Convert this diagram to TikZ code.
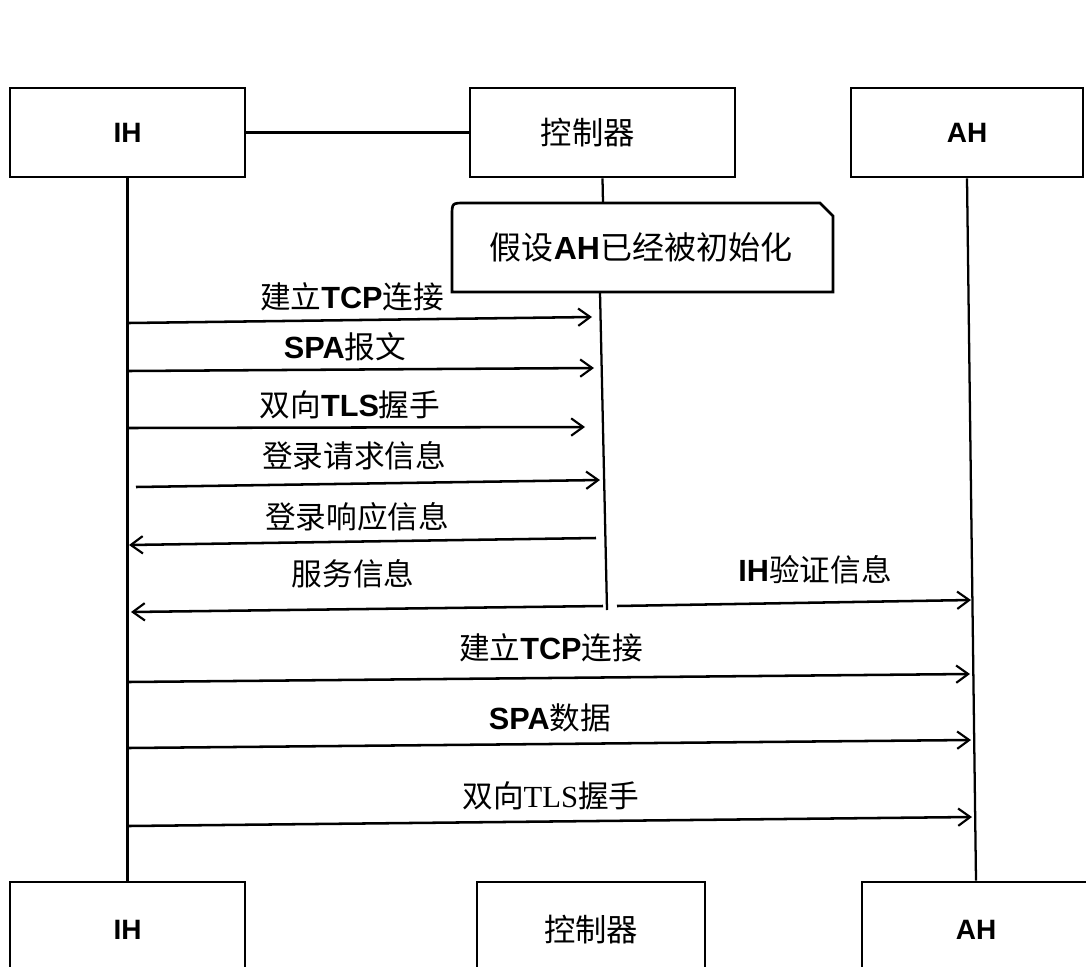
\documentclass[tikz,border=0pt]{standalone}
\usepackage{fontspec}
\setmainfont{Liberation Sans}
\newfontfamily\cjk{Noto Sans CJK SC}
\newfontfamily\serifl{Liberation Serif}
\usetikzlibrary{arrows.meta}
\newcommand\zh[1]{{\cjk #1}}
\newcommand\lat[1]{{\bfseries #1}}
\tikzset{
  actor/.style={draw, line width=2pt, fill=white, inner sep=0pt, font=\fontsize{21}{24}\selectfont},
  life/.style={line width=1.7pt},
  msg/.style={line width=1.9pt, -{Straight Barb[length=9pt,width=13pt,line width=1.6pt]}},
  lbl/.style={font=\fontsize{23}{26}\selectfont, inner sep=0pt},
}
\begin{document}
\begin{tikzpicture}[x=0.75pt,y=-0.75pt]
\useasboundingbox[fill=white] (0,0) rectangle (1086,967);

% top actors
\node[actor, minimum width=176.25pt, minimum height=66.75pt] (ih1) at (127.5,132.5) {\lat{IH}};
\node[actor, minimum width=198.75pt, minimum height=66.75pt] (ctl1) at (602.5,132.5) {\hspace*{-22pt}{\fontsize{23.5}{26}\selectfont\zh{控制器}}};
\node[actor, minimum width=174pt, minimum height=66.75pt] (ah1) at (967,132.5) {\lat{AH}};
\draw[life] (ih1.east) -- (ctl1.west);

% bottom actors
\node[actor, minimum width=176.25pt, minimum height=71.25pt] (ih2) at (127.5,929.5) {\lat{IH}};
\node[actor, minimum width=171pt, minimum height=71.25pt] (ctl2) at (591,929.5) {{\fontsize{23.5}{26}\selectfont\zh{控制器}}};
\node[actor, minimum width=171pt, minimum height=71.25pt] (ah2) at (976,929.5) {\lat{AH}};

% lifelines
\draw[life] (ih1.south) -- (ih2.north);
\draw[life] (ah1.south) -- (ah2.north);

% note
\node[inner sep=0pt, minimum width=285.75pt, minimum height=66.75pt, font=\fontsize{24}{27}\selectfont] (note) at (641,247.5) {\zh{假设}\lat{AH}\zh{已经被初始化}};
\draw[line width=2pt] (452,292) -- (452,216) .. controls (452,203) .. (465,203) -- (820,203) -- (833,216) -- (833,292) -- cycle;
\coordinate (ctop) at (603,203);
\draw[life] (ctl1.south) -- (ctop);
\coordinate (cb0) at (600,292);
\coordinate (cb1) at (607,610);
\draw[life] (cb0) -- (cb1);

% message endpoints
\coordinate (a1s) at (129,323); \coordinate (a1e) at (592,317);
\coordinate (a2s) at (129,371); \coordinate (a2e) at (594,368);
\coordinate (a3s) at (129,428); \coordinate (a3e) at (585,427);
\coordinate (a4s) at (136,487); \coordinate (a4e) at (600,480);
\coordinate (a5s) at (596,538); \coordinate (a5e) at (129,545);
\coordinate (a6s) at (603,606); \coordinate (a6e) at (131,612);
\coordinate (a7s) at (617,606); \coordinate (a7e) at (971,600);
\coordinate (a8s) at (129,682); \coordinate (a8e) at (970,674);
\coordinate (a9s) at (129,748); \coordinate (a9e) at (971,740);
\coordinate (a10s) at (129,826); \coordinate (a10e) at (972,817);

\draw[msg] (a1s) -- (a1e);
\draw[msg] (a2s) -- (a2e);
\draw[msg] (a3s) -- (a3e);
\draw[msg] (a4s) -- (a4e);
\draw[msg] (a5s) -- (a5e);
\draw[msg] (a6s) -- (a6e);
\draw[msg] (a7s) -- (a7e);
\draw[msg] (a8s) -- (a8e);
\draw[msg] (a9s) -- (a9e);
\draw[msg] (a10s) -- (a10e);

% labels
\node[lbl] (l1) at (352,297) {\zh{建立}\lat{TCP}\zh{连接}};
\node[lbl] (l2) at (345,347) {\lat{SPA}\zh{报文}};
\node[lbl] (l3) at (350,405) {\zh{双向}\lat{TLS}\zh{握手}};
\node[lbl] (l4) at (354,456) {\zh{登录请求信息}};
\node[lbl] (l5) at (357,517) {\zh{登录响应信息}};
\node[lbl] (l6) at (353,574) {\zh{服务信息}};
\node[lbl] (l7) at (815,570) {\lat{IH}\zh{验证信息}};
\node[lbl] (l8) at (551,648) {\zh{建立}\lat{TCP}\zh{连接}};
\node[lbl] (l9) at (550,718) {\lat{SPA}\zh{数据}};
\node[lbl] (l10) at (551,796) {\zh{双向}{\serifl TLS}\zh{握手}};
\end{tikzpicture}
\end{document}
